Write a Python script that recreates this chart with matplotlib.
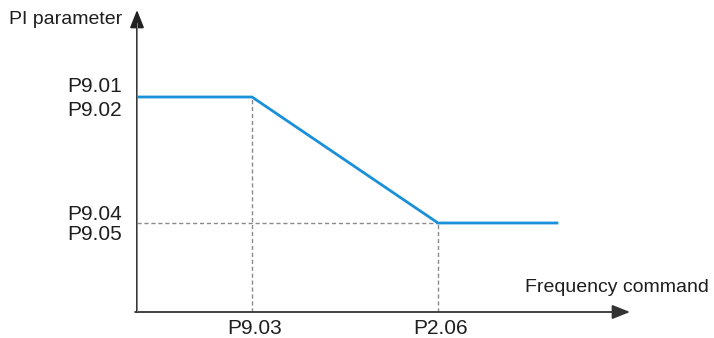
import matplotlib
matplotlib.use("Agg")
import matplotlib.pyplot as plt

plt.rcParams['font.family'] = ['Liberation Sans', 'DejaVu Sans']

# PI parameter vs frequency command (arbitrary units, origin at axis corner)
freq = [1, 115, 301, 420]
param = [215, 215, 89, 89]

x_marks = [115, 301]
x_labels = ['P9.03', 'P2.06']
y_upper_labels = ['P9.01', 'P9.02']
y_lower_labels = ['P9.04', 'P9.05']

blue = '#1a90d9'
grey = '#8a8a8a'
txt = '#1e1e1e'

fig = plt.figure(figsize=(7.14, 3.38), dpi=100)
ax = fig.add_axes([137 / 714, 26 / 338, 493 / 714, 302 / 338])
ax.set_xlim(0, 493)
ax.set_ylim(0, 302)
ax.axis('off')

# axes with arrow heads
head = '-|>,head_length=1.08,head_width=0.43'
ax.annotate('', xy=(493, 0), xytext=(-2, 0),
            arrowprops=dict(arrowstyle=head, color='#333333', lw=1.3,
                            shrinkA=0, shrinkB=0),
            annotation_clip=False)
ax.annotate('', xy=(0, 302), xytext=(0, 0),
            arrowprops=dict(arrowstyle=head, color='#222222', lw=1.3,
                            shrinkA=0, shrinkB=0),
            annotation_clip=False)
ax.plot([0, 0], [0, 288], color='#8c8c8c', lw=1.3, zorder=3)

# dashed guides
ax.plot([x_marks[0], x_marks[0]], [0, param[1]], ls=(0, (3, 2)), color=grey, lw=1)
ax.plot([x_marks[1], x_marks[1]], [0, param[2]], ls=(0, (3, 2)), color=grey, lw=1)
ax.plot([0, x_marks[1]], [param[2], param[2]], ls=(0, (3, 2)), color=grey, lw=1)

ax.plot(freq, param, color=blue, lw=2, solid_joinstyle='miter', zorder=4)

fs = 14
pfs = 15
ax.text(-128, 292, 'PI parameter', fontsize=fs, ha='left', va='center', color=txt)
ax.text(-15, param[0] + 10, y_upper_labels[0], fontsize=pfs, ha='right', va='center', color=txt)
ax.text(-15, param[0] - 13, y_upper_labels[1], fontsize=pfs, ha='right', va='center', color=txt)
ax.text(-15, param[2] + 9, y_lower_labels[0], fontsize=pfs, ha='right', va='center', color=txt)
ax.text(-15, param[2] - 11, y_lower_labels[1], fontsize=pfs, ha='right', va='center', color=txt)
for xm, lab in zip(x_marks, x_labels):
    ax.text(xm + 3, -16, lab, fontsize=pfs, ha='center', va='center', color=txt)
ax.text(572, 24, 'Frequency command', fontsize=fs, ha='right', va='center', color=txt)

fig.savefig('out.png', dpi=100)
